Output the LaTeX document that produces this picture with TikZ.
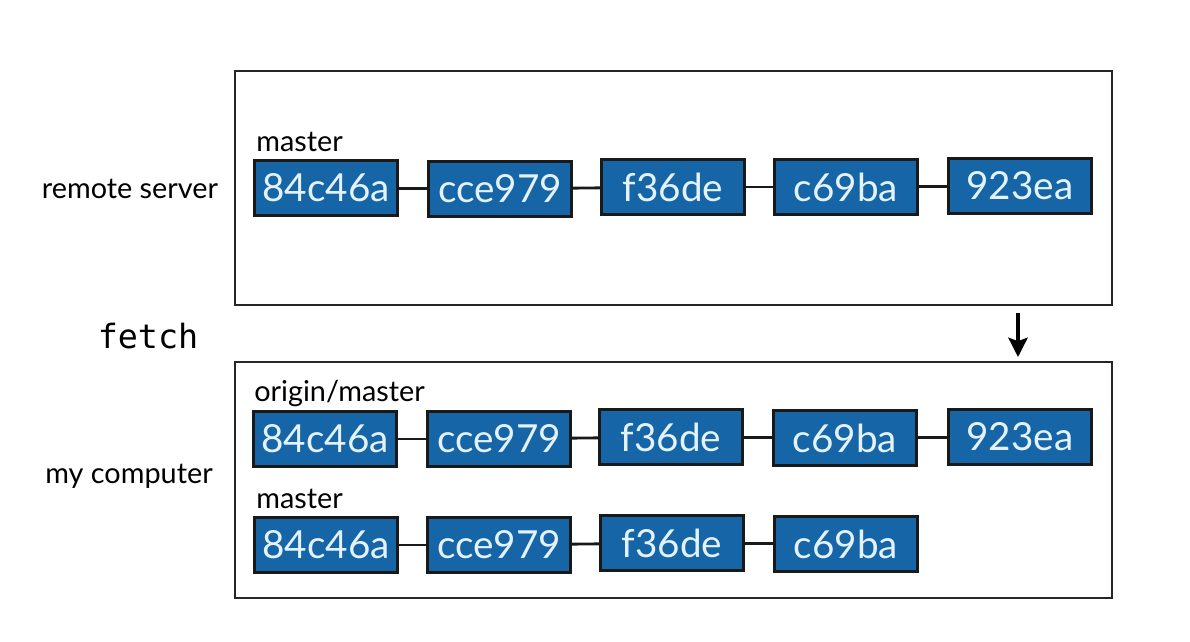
\documentclass[tikz,border=0pt]{standalone}
\usepackage{fontspec}
\setmainfont{Lato}
\newfontfamily\codefont{DejaVu Sans Mono}
\usepackage{tikz}
\usepackage{xcolor}
\usetikzlibrary{calc,arrows.meta}

\definecolor{commitblue}{RGB}{22,101,166}
\definecolor{committext}{RGB}{228,242,252}

\begin{document}
\begin{tikzpicture}[x=0.02cm, y=-0.02cm,
        commit/.style={rectangle, draw=black!90, fill=commitblue, line width=1.6pt, inner sep=0pt,
            minimum width=2.86cm, minimum height=1.1cm, text=committext, font=\fontsize{22}{24}\selectfont},
        area/.style={rectangle, draw=black!85, line width=0.9pt, inner sep=0pt, minimum width=17.54cm},
        branch/.style={anchor=base west, inner sep=0pt, font=\fontsize{16.4}{18}\selectfont},
        side/.style={inner sep=0pt, font=\fontsize{16.4}{18}\selectfont}
        ]
            \useasboundingbox (0,0) rectangle (1190,642);

            \node[area, minimum height=4.68cm] (remote) at (673.5,188) {};
            \node[area, minimum height=4.72cm] (local) at (673.5,480) {};

            \node[side] (RS) at (130,189) {remote server};
            \node[side] (MC) at (129,476) {my computer};
            \node[inner sep=0pt, font=\codefont\fontsize{19}{22}\selectfont] (fetch) at (148,336) {fetch};

            \node[branch] (M1) at (256,152) {master};
            \node[branch] (O2) at (254,401) {origin/master};
            \node[branch] (M3) at (256,508) {master};

            % remote server
            \node[commit] (A) at (326,188) {84c46a};
            \node[commit] (B) at (500,189) {cce979};
            \node[commit] (C) at (673,187) {f36de};
            \node[commit] (D) at (846,187) {c69ba};
            \node[commit] (E) at (1020,186) {923ea};

            % origin/master
            \node[commit] (A2) at (325,439) {84c46a};
            \node[commit] (B2) at (499,439) {cce979};
            \node[commit] (C2) at (671,437) {f36de};
            \node[commit] (D2) at (845,438) {c69ba};
            \node[commit] (E2) at (1020,437) {923ea};

            % master
            \node[commit] (A3) at (326,545) {84c46a};
            \node[commit] (B3) at (499,545) {cce979};
            \node[commit] (C3) at (672,543) {f36de};
            \node[commit] (D3) at (846,544) {c69ba};

            \tikzset{link/.style={-, line width=1.6pt, black!90}}

            \draw[link] (A) edge[] (B);
            \draw[link] (B) edge[] (C);
            \draw[link] (C) edge[] (D);
            \draw[link] (D) edge[] (E);

            \draw[link] (A2) edge[] (B2);
            \draw[link] (B2) edge[] (C2);
            \draw[link] (C2) edge[] (D2);
            \draw[link] (D2) edge[] (E2);

            \draw[link] (A3) edge[] (B3);
            \draw[link] (B3) edge[] (C3);
            \draw[link] (C3) edge[] (D3);

            \coordinate (F1) at (1018,313);
            \coordinate (F2) at (1018,357);
            \draw[-{Stealth[length=11pt, width=11pt, inset=2pt]}, line width=1.9pt] (F1) -- (F2);

        \end{tikzpicture}
\end{document}
